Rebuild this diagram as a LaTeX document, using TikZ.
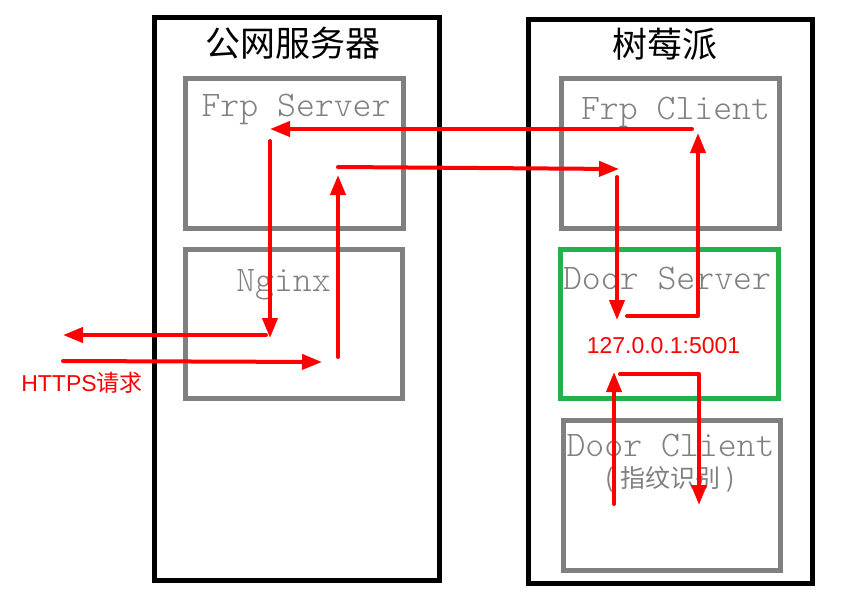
\documentclass[tikz,border=0pt]{standalone}
\usepackage{fontspec}
\newfontfamily\cjk{Noto Sans CJK SC}
\newfontfamily\latsans{Liberation Sans}
\newfontfamily\lightmono{Latin Modern Mono Light}
\usetikzlibrary{arrows.meta}
\definecolor{dsgreen}{RGB}{34,177,76}
\definecolor{boxgray}{RGB}{128,128,128}
\begin{document}
\begin{tikzpicture}[x=1pt,y=-1pt,
  outerbox/.style={draw=black,line width=5pt,inner sep=0pt,outer sep=0pt},
  innerbox/.style={draw=boxgray,line width=5pt,inner sep=0pt,outer sep=0pt},
  greenbox/.style={draw=dsgreen,line width=5pt,inner sep=0pt,outer sep=0pt},
  flow/.style={draw=red,line width=4pt,line cap=round,line join=round,-{Triangle[length=20pt,width=15pt]}},
  boxlabel/.style={text=boxgray,font=\lightmono\fontsize{36}{36}\selectfont,anchor=base,inner sep=0pt},
  titlelabel/.style={font=\cjk\fontsize{35}{35}\selectfont,inner sep=0pt},
  redlabel/.style={text=red,inner sep=0pt}]
\useasboundingbox (0,0) rectangle (856,605);
% outer boxes
\node[outerbox,minimum width=284.5pt,minimum height=563pt] (pub) at (297,298.5) {};
\node[outerbox,minimum width=283.5pt,minimum height=564pt] (pi) at (670.25,301) {};
% inner boxes
\node[innerbox,minimum width=218pt,minimum height=150pt] (frps) at (294.5,153.5) {};
\node[innerbox,minimum width=217pt,minimum height=149pt] (nginx) at (294,324) {};
\node[innerbox,minimum width=218pt,minimum height=150pt] (frpc) at (670.5,153.5) {};
\node[greenbox,minimum width=218pt,minimum height=148.5pt] (doors) at (669.5,323.75) {};
\node[innerbox,minimum width=217.5pt,minimum height=150pt] (doorc) at (671.75,495.5) {};
% titles
\node[titlelabel] (pubtitle) at (292.5,43) {公网服务器};
\node[titlelabel] (pititle) at (665,44) {树莓派};
% box labels
\node[boxlabel] (frpslabel) at (296,116) {Frp Server};
\node[boxlabel] (frpclabel) at (675.5,119) {Frp Client};
\node[boxlabel] (nginxlabel) at (283.5,291.5) {Nginx};
\node[boxlabel] (doorslabel) at (667,289) {Door Server};
\node[boxlabel] (doorclabel) at (670.5,456) {Door Client};
\node[text=boxgray,font=\cjk\fontsize{25}{25}\selectfont,inner sep=0pt,anchor=base,text height=16pt,text depth=4pt] (fplabel) at (670,487) {\makebox[15pt][l]{(}指纹识别\makebox[15pt][r]{)}};
\node[redlabel,font=\latsans\fontsize{23}{23}\selectfont] (addr) at (663.5,346) {127.0.0.1:5001};
\node[redlabel,font=\latsans\fontsize{23}{23}\selectfont] (https) at (82,383) {HTTPS{\cjk 请求}};
% flow coordinates
\coordinate (a1) at (692,129);
\coordinate (a2) at (270,129);
\coordinate (b1) at (270,141);
\coordinate (b2) at (270,338);
\coordinate (c1) at (266,335);
\coordinate (c2) at (63,335);
\coordinate (d1) at (63,361);
\coordinate (d2) at (322,362);
\coordinate (e1) at (338,357);
\coordinate (e2) at (338,175);
\coordinate (f1) at (338,167);
\coordinate (f2) at (619,169);
\coordinate (g1) at (617,177);
\coordinate (g2) at (617,320);
\coordinate (h1) at (627,316);
\coordinate (h2) at (698,316);
\coordinate (h3) at (698,133);
\coordinate (i1) at (614,504);
\coordinate (i2) at (614,372);
\coordinate (j1) at (620,374);
\coordinate (j2) at (699,374);
\coordinate (j3) at (699,505);
% flows
\draw[flow] (a1) -- (a2);
\draw[flow] (b1) -- (b2);
\draw[flow] (c1) -- (c2);
\draw[flow] (d1) -- (d2);
\draw[flow] (e1) -- (e2);
\draw[flow] (f1) -- (f2);
\draw[flow] (g1) -- (g2);
\draw[flow] (h1) -- (h2) -- (h3);
\draw[flow] (i1) -- (i2);
\draw[flow] (j1) -- (j2) -- (j3);
\end{tikzpicture}
\end{document}
